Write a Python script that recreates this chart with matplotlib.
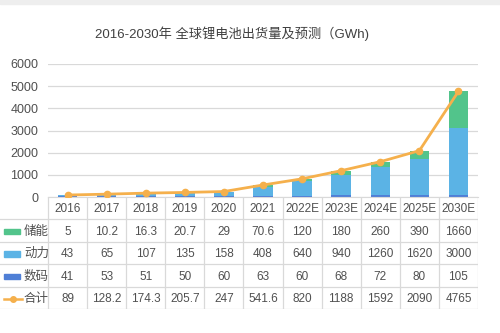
import numpy as np
import matplotlib.pyplot as plt
from matplotlib.patches import Rectangle
from matplotlib.lines import Line2D

plt.rcParams["font.family"] = ["Liberation Sans", "Noto Sans CJK SC", "DejaVu Sans"]

years = ["2016", "2017", "2018", "2019", "2020", "2021", "2022E", "2023E", "2024E", "2025E", "2030E"]
storage = [5, 10.2, 16.3, 20.7, 29, 70.6, 120, 180, 260, 390, 1660]
power = [43, 65, 107, 135, 158, 408, 640, 940, 1260, 1620, 3000]
digital = [41, 53, 51, 50, 60, 63, 60, 68, 72, 80, 105]
total = [89, 128.2, 174.3, 205.7, 247, 541.6, 820, 1188, 1592, 2090, 4765]

C_STORAGE = "#52c48b"
C_POWER = "#5bb3e5"
C_DIGITAL = "#4f7fd6"
C_TOTAL = "#f5b04c"
GRID = "#d9d9d9"
TXT = "#505050"

W, H = 500, 333
fig = plt.figure(figsize=(W / 100, H / 100), dpi=100)

# light band along the top edge
fig.patches.append(Rectangle((0, 1 - 4 / H), 1, 4 / H, transform=fig.transFigure,
                             color="#eeeeee", zorder=0))

x0, x1, y_top, y_zero = 48, 478, 64, 197
ax = fig.add_axes([x0 / W, 1 - y_zero / H, (x1 - x0) / W, (y_zero - y_top) / H])
x = np.arange(len(years))
d = np.array(digital)
p = np.array(power)
s = np.array(storage)
ax.bar(x, d, width=0.5, color=C_DIGITAL, zorder=2)
ax.bar(x, p, width=0.5, bottom=d, color=C_POWER, zorder=2)
ax.bar(x, s, width=0.5, bottom=d + p, color=C_STORAGE, zorder=2)
ax.plot(x, total, color=C_TOTAL, lw=2, marker="o", ms=4.5, zorder=3)
ax.set_xlim(-0.5, len(years) - 0.5)
ax.set_ylim(0, 6000)
ax.set_yticks(range(0, 6001, 1000))
ax.set_xticks([])
ax.grid(axis="y", color=GRID, lw=0.9, zorder=0)
for side in ["top", "right", "left"]:
    ax.spines[side].set_visible(False)
ax.spines["bottom"].set_color(GRID)
ax.tick_params(axis="y", length=0, labelsize=9, labelcolor=TXT, pad=7)

fig.text(232 / W, 1 - 34 / H, "2016-2030年 全球锂电池出货量及预测（GWh)",
         ha="center", va="center", fontsize=9.5, color="#404040")

# data table under the chart
t_bottom = 309
cw = (x1 - x0) / len(years)
tab = fig.add_axes([0, 1 - t_bottom / H, x1 / W, (t_bottom - y_zero) / H])
left = -0.5 - x0 / cw
tab.set_xlim(left, len(years) - 0.5)
tab.set_ylim(5, 0)
tab.axis("off")

rows = [("储能", storage), ("动力", power), ("数码", digital), ("合计", total)]
for k in range(len(years) + 1):
    tab.plot([k - 0.5, k - 0.5], [0, 5], color=GRID, lw=0.9)
for r in range(1, 6):
    tab.plot([left, len(years) - 0.5], [r, r], color=GRID, lw=0.9)

for i, yr in enumerate(years):
    tab.text(i, 0.55, yr, ha="center", va="center", fontsize=8.5, color=TXT)
for r, (name, vals) in enumerate(rows, start=1):
    for i, v in enumerate(vals):
        tab.text(i, r + 0.55, f"{v:g}", ha="center", va="center", fontsize=8.5, color=TXT)
    tab.text(left + 24 / cw, r + 0.55, name, ha="left", va="center", fontsize=9, color=TXT)

sw_l, sw_r = left + 4 / cw, left + 20 / cw
for r, c in enumerate([C_STORAGE, C_POWER, C_DIGITAL], start=1):
    tab.add_patch(Rectangle((sw_l, r + 0.42), sw_r - sw_l, 0.25, color=c))
tab.add_line(Line2D([sw_l, left + 22 / cw], [4.55, 4.55], color=C_TOTAL, lw=1.8))
tab.plot([left + 13 / cw], [4.55], marker="o", ms=4, color=C_TOTAL)

fig.savefig("out.png", dpi=100)
